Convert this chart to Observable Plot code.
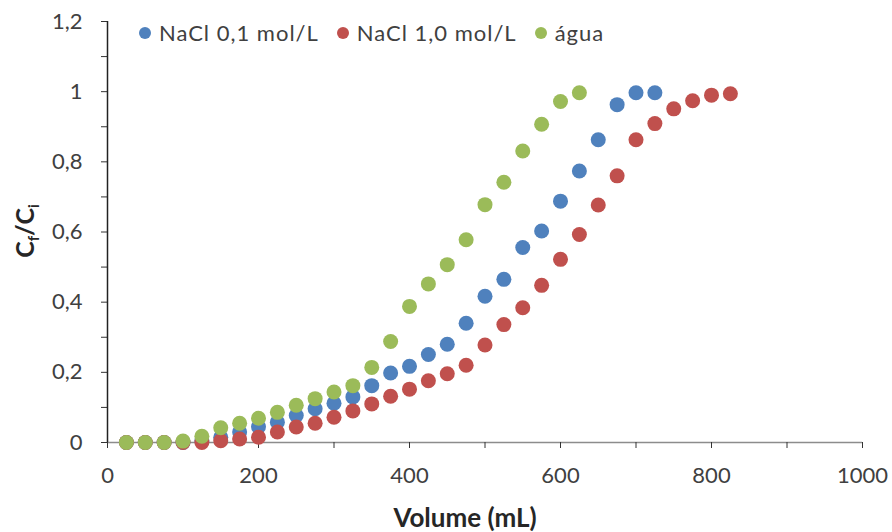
<!DOCTYPE html>
<html>
<head>
<meta charset="utf-8">
<script src="https://cdn.jsdelivr.net/npm/d3@7"></script>
<script src="https://cdn.jsdelivr.net/npm/@observablehq/plot@0.6"></script>
<style>
  html, body { margin: 0; padding: 0; background: #fff; }
  #wrap { position: relative; width: 892px; height: 532px; font-family: Lato, "Open Sans", sans-serif; }
  #legend { position: absolute; left: 139px; top: 19px; display: flex; align-items: center; font-size: 22px; letter-spacing: 1px; color: #404040; white-space: nowrap; line-height: 28px; }
  #legend .item { display: flex; align-items: center; margin-right: 18px; }
  #legend .sw { width: 12px; height: 12px; border-radius: 50%; margin-right: 8px; }
</style>
</head>
<body>
<div id="wrap"><div id="legend"></div></div>
<script>
// ---- data ----
const seriesNames = ["NaCl 0,1 mol/L", "NaCl 1,0 mol/L", "água"];
const seriesColors = ["#4F81BD", "#C0504D", "#9BBB59"];
const volume = [25,50,75,100,125,150,175,200,225,250,275,300,325,350,375,400,425,450,475,500,525,550,575,600,625,650,675,700,725,750,775,800,825];
const nacl01 = [0,0,0,0,0.005,0.015,0.03,0.045,0.058,0.077,0.096,0.112,0.13,0.162,0.198,0.217,0.251,0.28,0.34,0.417,0.465,0.556,0.603,0.688,0.774,0.863,0.963,0.997,0.997];
const nacl10 = [0,0,0,0,0,0.005,0.01,0.015,0.03,0.044,0.055,0.072,0.09,0.11,0.132,0.152,0.176,0.196,0.22,0.278,0.336,0.384,0.448,0.522,0.593,0.677,0.76,0.863,0.909,0.951,0.974,0.99,0.994];
const agua = [0,0,0,0.004,0.018,0.042,0.055,0.069,0.086,0.106,0.125,0.144,0.162,0.214,0.288,0.388,0.452,0.507,0.578,0.678,0.742,0.831,0.907,0.972,0.997];
const xTicks = [0,100,200,300,400,500,600,700,800,900,1000];
const yTicks = [0,0.1,0.2,0.3,0.4,0.5,0.6,0.7,0.8,0.9,1.0,1.1,1.2];

const seriesValues = [nacl01, nacl10, agua];
const rows = [];
seriesValues.forEach((vals, s) => vals.forEach((v, i) => rows.push({x: volume[i], y: v, s: seriesNames[s]})));

const fmtY = d => String(Math.round(d * 10) / 10).replace(".", ",");

const chart = Plot.plot({
  width: 892,
  height: 532,
  marginLeft: 107,
  marginRight: 30,
  marginTop: 21,
  marginBottom: 90,
  style: { fontFamily: "Lato, 'Open Sans', sans-serif", fontSize: "22px", color: "#404040", background: "#fff" },
  x: { domain: [0, 1000] },
  y: { domain: [0, 1.2] },
  color: { domain: seriesNames, range: seriesColors },
  marks: [
    Plot.ruleY([0], { stroke: "#8c8c8c", strokeWidth: 1.5 }),
    Plot.axisX({ ticks: xTicks, tickFormat: d => (d % 200 === 0 ? String(d) : ""), tickSize: 6, tickPadding: 19, stroke: "#333", label: null, fontSize: 22 }),
    Plot.axisY({ ticks: yTicks, tickFormat: d => (Math.round(d * 10) % 2 === 0 ? fmtY(d) : ""), tickSize: 6, tickPadding: 19, stroke: "#333", label: null, fontSize: 22 }),
    Plot.ruleX([0], { stroke: "#222", strokeWidth: 1.5 }),
    Plot.dot(rows, { x: "x", y: "y", fill: "s", r: 7.5, stroke: "none" })
  ]
});

const svg = d3.select(chart);
svg.append("text")
  .attr("x", 465).attr("y", 527)
  .attr("text-anchor", "middle")
  .attr("font-weight", "bold").attr("font-size", 26).attr("fill", "#262626")
  .text("Volume (mL)");
const yl = svg.append("text")
  .attr("transform", "translate(34,231) rotate(-90)")
  .attr("text-anchor", "middle")
  .attr("font-weight", "bold").attr("font-size", 25).attr("fill", "#262626");
yl.append("tspan").text("C");
yl.append("tspan").attr("font-size", 15).attr("dy", 5).text("f");
yl.append("tspan").attr("dy", -5).text("/C");
yl.append("tspan").attr("font-size", 15).attr("dy", 5).text("i");

document.getElementById("wrap").prepend(chart);

const legend = d3.select("#legend");
seriesNames.forEach((n, i) => {
  const it = legend.append("div").attr("class", "item");
  it.append("div").attr("class", "sw").style("background", seriesColors[i]);
  it.append("span").text(n);
});
</script>
</body>
</html>
